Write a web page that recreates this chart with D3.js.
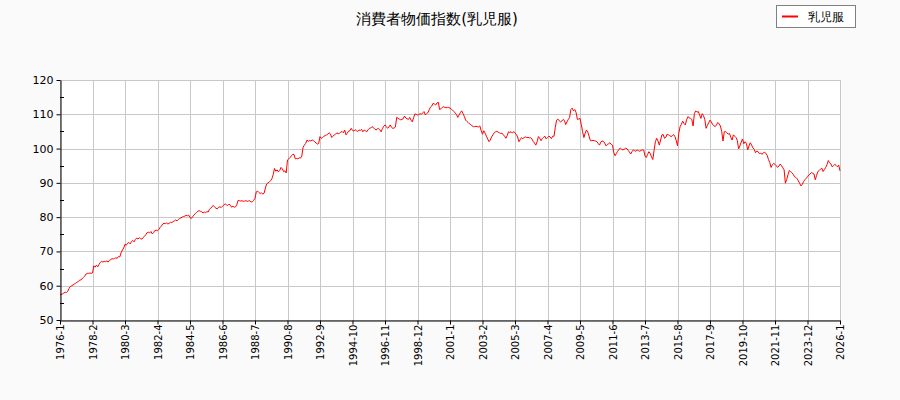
<!DOCTYPE html>
<html>
<head>
<meta charset="utf-8">
<script src="https://cdn.jsdelivr.net/npm/d3@7"></script>
<style>
  body { margin: 0; background: #fafafa; }
  svg { display: block; }
  text { font-family: "DejaVu Sans", sans-serif; }
</style>
</head>
<body>
<script>
const width = 900;
const height = 400;

const title = "消費者物価指数(乳児服)";
const seriesName = "乳児服";
const startYear = 1976;

// 月次の指数 (1976-1 〜 2026-1)
const values = [
  57.4, 57.5, 57.6, 57.9, 58.1, 58.0, 58.4, 59.2, 59.8, 60.0, 60.2, 60.5,
  60.7, 61.0, 61.2, 61.6, 61.7, 62.0, 62.4, 62.8, 63.4, 63.6, 63.6, 63.7,
  63.6, 63.7, 65.8, 65.4, 66.0, 65.5, 66.2, 66.8, 67.1, 66.9, 67.1, 67.0,
  67.2, 66.9, 67.4, 67.6, 67.9, 67.8, 68.0, 68.1, 68.0, 68.5, 68.4, 69.6,
  70.4, 71.0, 72.1, 71.8, 72.4, 72.6, 72.2, 72.9, 73.2, 72.8, 73.5, 73.9,
  73.6, 74.0, 73.7, 73.6, 74.1, 74.4, 74.9, 75.5, 75.6, 75.4, 75.8, 75.1,
  75.5, 76.1, 76.2, 76.0, 76.4, 77.0, 77.4, 78.0, 78.2, 78.1, 78.3, 78.0,
  78.2, 78.5, 78.4, 78.7, 78.9, 79.2, 78.9, 79.3, 79.6, 79.8, 80.0, 80.2,
  80.3, 80.5, 80.4, 80.6, 79.9, 79.6, 80.1, 80.6, 81.0, 81.4, 81.7, 81.9,
  81.7, 81.6, 81.2, 81.5, 81.3, 81.6, 81.5, 82.3, 82.6, 83.1, 83.4, 82.9,
  82.6, 82.4, 82.9, 83.0, 82.8, 83.2, 83.5, 83.9, 83.6, 83.4, 83.8, 83.5,
  82.9, 83.2, 82.9, 83.0, 83.6, 84.9, 84.8, 84.7, 84.8, 84.6, 84.7, 84.8,
  84.6, 84.7, 84.8, 84.4, 84.5, 84.9, 85.5, 87.4, 87.6, 87.2, 86.9, 87.1,
  86.7, 87.0, 88.5, 89.7, 90.0, 90.3, 90.6, 91.2, 92.4, 94.2, 93.4, 93.8,
  93.2, 93.6, 94.5, 94.1, 93.3, 93.5, 92.9, 96.7, 97.0, 97.4, 97.9, 98.3,
  98.3, 97.0, 97.1, 97.0, 97.3, 97.2, 97.8, 100.4, 101.0, 101.5, 102.5, 102.1,
  102.4, 102.2, 102.5, 102.3, 102.0, 101.6, 101.3, 101.5, 103.5, 103.0, 103.2, 103.6,
  103.8, 104.0, 104.2, 104.6, 104.3, 103.2, 103.6, 104.0, 104.2, 104.6, 104.3, 104.5,
  104.8, 105.0, 104.6, 105.4, 104.0, 104.5, 105.1, 105.2, 105.9, 105.3, 105.1, 105.5,
  105.2, 105.0, 105.4, 105.3, 105.6, 104.9, 105.4, 105.2, 104.9, 105.5, 105.9, 106.0,
  106.4, 106.1, 105.8, 105.4, 105.7, 105.9, 105.5, 104.9, 105.8, 106.5, 106.9, 106.4,
  105.9, 106.3, 106.9, 106.2, 105.9, 106.0, 106.3, 109.1, 108.8, 108.6, 108.4, 108.5,
  108.7, 109.5, 108.9, 108.7, 108.5, 109.1, 108.3, 107.8, 109.0, 110.1, 110.0, 109.8,
  109.9, 110.2, 110.0, 110.4, 110.8, 109.8, 110.2, 110.5, 111.3, 112.1, 112.4, 113.2,
  113.0, 112.7, 113.3, 113.5, 111.4, 111.6, 112.0, 112.2, 112.0, 111.9, 112.0, 112.0,
  111.8, 111.5, 111.2, 110.8, 110.4, 109.9, 109.1, 109.8, 110.5, 111.0, 110.2, 109.4,
  108.3, 107.9, 107.6, 107.2, 107.0, 106.6, 106.4, 106.4, 106.5, 106.4, 106.3, 106.6,
  105.2, 104.2, 105.2, 104.5, 103.6, 102.8, 102.0, 102.5, 103.4, 104.0, 104.6, 104.9,
  105.0, 104.8, 104.6, 104.4, 104.5, 104.0, 103.6, 103.0, 103.8, 104.9, 104.7, 104.9,
  104.5, 105.0, 104.6, 104.1, 103.4, 102.0, 102.6, 103.2, 102.9, 103.2, 103.4, 103.2,
  103.3, 103.1, 103.2, 102.8, 102.1, 101.6, 101.0, 102.0, 103.5, 103.0, 102.3, 102.9,
  103.3, 103.6, 102.8, 103.2, 103.6, 103.4, 102.9, 103.6, 103.6, 106.2, 108.3, 108.6,
  108.1, 107.8, 108.0, 108.5, 108.2, 107.0, 107.8, 108.5, 109.1, 111.4, 111.8, 111.0,
  111.4, 110.5, 108.5, 108.6, 108.8, 107.0, 104.9, 103.2, 104.5, 105.4, 104.8, 103.6,
  102.3, 102.3, 102.4, 102.3, 102.2, 102.0, 101.5, 101.0, 101.9, 102.2, 102.1, 101.6,
  100.8, 101.2, 101.4, 101.7, 101.2, 101.0, 98.8, 97.9, 98.6, 99.2, 99.8, 100.1,
  99.8, 99.6, 99.8, 100.1, 100.0, 99.5, 99.0, 98.4, 99.1, 99.6, 99.4, 99.2,
  99.6, 99.4, 99.2, 99.5, 99.6, 99.6, 97.8, 97.4, 98.3, 99.1, 98.6, 97.6,
  96.8, 99.5, 102.0, 103.0, 102.2, 101.0, 102.5, 104.0, 104.1, 103.0, 103.3, 104.2,
  104.0, 103.8, 103.5, 103.7, 104.1, 103.5, 102.4, 100.8, 104.5, 106.4, 107.1, 108.0,
  107.3, 106.9, 108.4, 109.3, 109.0, 108.8, 108.5, 106.6, 110.2, 111.0, 110.6, 110.8,
  109.8, 108.8, 110.2, 109.6, 108.5, 105.9, 106.8, 107.5, 108.3, 107.8, 107.0, 106.7,
  106.4, 106.9, 107.6, 107.2, 106.6, 105.0, 102.2, 104.9, 105.0, 104.6, 104.2, 104.4,
  103.3, 102.5, 104.0, 103.6, 103.2, 102.4, 99.9, 100.8, 101.9, 102.8, 101.4, 102.0,
  101.5, 99.6, 100.8, 101.7, 101.0, 100.2, 99.8, 98.8, 99.3, 99.1, 98.5, 98.7,
  98.3, 98.8, 98.9, 98.6, 98.0, 96.8, 95.9, 94.5, 95.3, 95.7, 95.4, 95.0,
  94.5, 94.9, 95.5, 95.0, 94.4, 93.8, 89.9, 91.0, 92.4, 93.6, 93.3, 93.0,
  92.5, 91.8, 91.6, 91.2, 90.6, 89.8, 89.1, 89.6, 90.4, 90.9, 91.3, 91.8,
  92.3, 92.6, 93.0, 92.8, 92.6, 90.9, 92.2, 93.3, 93.6, 94.0, 94.3, 93.3,
  93.9, 94.5, 95.3, 96.5, 95.9, 95.5, 94.7, 95.0, 95.4, 95.1, 94.7, 95.2,
  93.5
];

const yTicks = [50, 60, 70, 80, 90, 100, 110, 120];
const tickStep = 25; // 月

const margin = { top: 80, right: 60, bottom: 80, left: 60 };

const svg = d3.select("body")
    .append("svg")
    .attr("width", width)
    .attr("height", height);

svg.append("rect")
    .attr("width", width)
    .attr("height", height)
    .attr("fill", "#fafafa");

const x = d3.scaleLinear()
    .domain([0, values.length - 1])
    .range([margin.left, width - margin.right]);

const y = d3.scaleLinear()
    .domain([50, 120])
    .range([height - margin.bottom, margin.top]);

// プロット領域
svg.append("rect")
    .attr("x", margin.left)
    .attr("y", margin.top)
    .attr("width", width - margin.left - margin.right)
    .attr("height", height - margin.top - margin.bottom)
    .attr("fill", "#ffffff");

const xTicks = d3.range(0, values.length, tickStep);
const monthLabel = i => `${startYear + Math.floor(i / 12)}-${i % 12 + 1}`;

// グリッド
svg.append("g")
    .selectAll("line")
    .data(xTicks)
    .join("line")
    .attr("x1", d => Math.round(x(d)) + 0.5)
    .attr("x2", d => Math.round(x(d)) + 0.5)
    .attr("y1", margin.top)
    .attr("y2", height - margin.bottom)
    .attr("stroke", "#c8c8c8");

svg.append("g")
    .selectAll("line")
    .data(yTicks)
    .join("line")
    .attr("x1", margin.left)
    .attr("x2", width - margin.right)
    .attr("y1", d => Math.round(y(d)) + 0.5)
    .attr("y2", d => Math.round(y(d)) + 0.5)
    .attr("stroke", "#c8c8c8");

// 線
const line = d3.line()
    .x((d, i) => x(i))
    .y(d => y(d));

svg.append("path")
    .datum(values)
    .attr("fill", "none")
    .attr("stroke", "#ff0000")
    .attr("stroke-width", 1)
    .attr("d", line);

// Y軸
const yAxis = svg.append("g")
    .attr("transform", `translate(${margin.left + 0.5},0)`)
    .call(d3.axisLeft(y).tickValues(yTicks).tickSize(4).tickSizeOuter(0));
yAxis.select(".domain").attr("stroke", "#000");
yAxis.selectAll("text")
    .attr("font-size", "11px")
    .attr("font-family", "DejaVu Sans")
    .attr("fill", "#000");

// 補助目盛 (5刻み)
svg.append("g")
    .selectAll("line")
    .data(d3.range(55, 120, 10))
    .join("line")
    .attr("x1", margin.left)
    .attr("x2", margin.left + 4)
    .attr("y1", d => Math.round(y(d)) + 0.5)
    .attr("y2", d => Math.round(y(d)) + 0.5)
    .attr("stroke", "#000");

// X軸
const xAxis = svg.append("g")
    .attr("transform", `translate(0,${height - margin.bottom + 0.5})`)
    .call(d3.axisBottom(x).tickValues(xTicks).tickFormat(monthLabel).tickSize(4).tickSizeOuter(0));
xAxis.select(".domain").attr("stroke", "#000");
xAxis.selectAll("text")
    .attr("font-size", "10px")
    .attr("font-family", "DejaVu Sans")
    .attr("fill", "#000")
    .attr("text-anchor", "end")
    .attr("transform", "rotate(-90)")
    .attr("x", -4)
    .attr("y", 0)
    .attr("dy", "0.35em");

// タイトル
svg.append("text")
    .attr("x", 437)
    .attr("y", 24)
    .attr("text-anchor", "middle")
    .attr("font-family", "Noto Sans CJK JP")
    .attr("font-size", "15px")
    .attr("fill", "#000")
    .text(title);

// 凡例
const legend = svg.append("g").attr("transform", "translate(776,5)");
legend.append("rect")
    .attr("x", 0.5)
    .attr("y", 0.5)
    .attr("width", 79)
    .attr("height", 22)
    .attr("fill", "#fff")
    .attr("stroke", "#808080");
legend.append("line")
    .attr("x1", 6)
    .attr("x2", 22)
    .attr("y1", 11.5)
    .attr("y2", 11.5)
    .attr("stroke", "#ff0000")
    .attr("stroke-width", 2);
legend.append("text")
    .attr("x", 32)
    .attr("y", 16)
    .attr("font-family", "Noto Sans CJK JP")
    .attr("font-size", "12px")
    .attr("fill", "#000")
    .text(seriesName);
</script>
</body>
</html>
